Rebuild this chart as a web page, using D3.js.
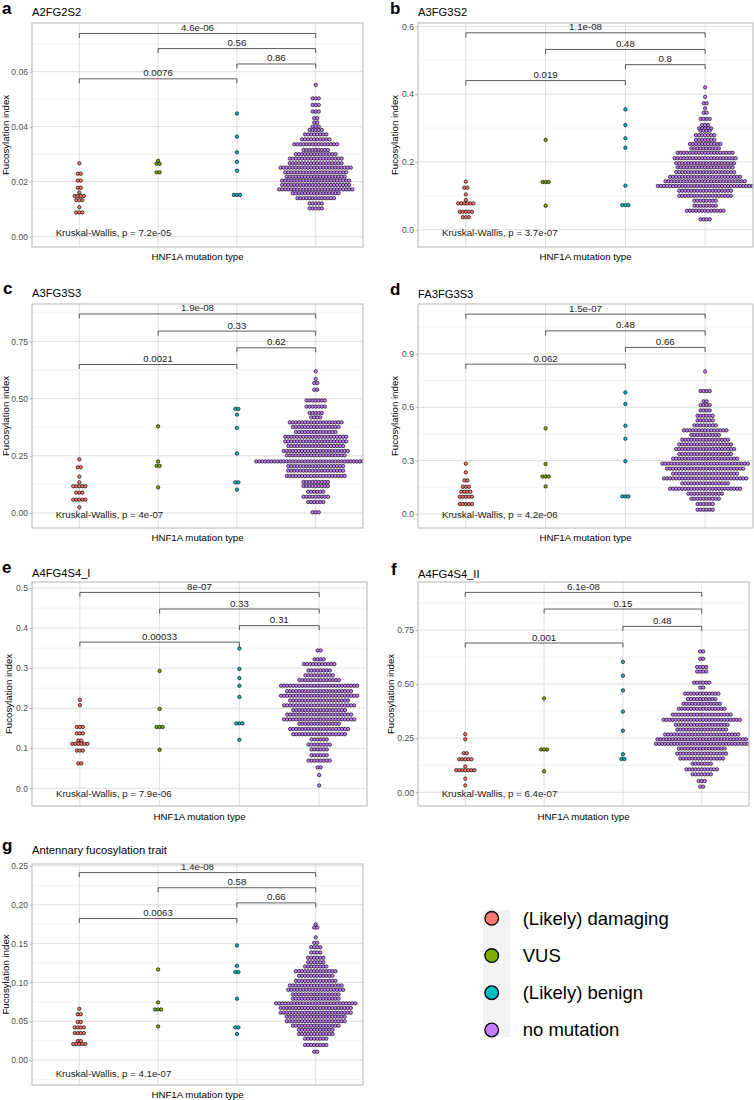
<!DOCTYPE html>
<html><head><meta charset="utf-8">
<script src="https://cdn.jsdelivr.net/npm/d3@7"></script>
<style>
body{margin:0;background:#fff}
svg{display:block;font-family:"Liberation Sans",Arial,Helvetica,sans-serif}
</style>
</head><body>
<svg id="chart" width="754" height="1100"></svg>
<script>
// ---------------- data ----------------
const categories = ["(Likely) damaging", "VUS", "(Likely) benign", "no mutation"];
const colors = ["#F8766D", "#7CAE00", "#00BFC4", "#C77CFF"];
const panelLetters = ["a", "b", "c", "d", "e", "f", "g"];
const panelTitles = ["A2FG2S2", "A3FG3S2", "A3FG3S3", "FA3FG3S3", "A4FG4S4_I", "A4FG4S4_II", "Antennary fucosylation trait"];
const kwLabels = ["Kruskal-Wallis, p = 7.2e-05", "Kruskal-Wallis, p = 3.7e-07", "Kruskal-Wallis, p = 4e-07",
  "Kruskal-Wallis, p = 4.2e-06", "Kruskal-Wallis, p = 7.9e-06", "Kruskal-Wallis, p = 6.4e-07", "Kruskal-Wallis, p = 4.1e-07"];
const kwY = [0.0016, -0.008, -0.007, -0.004, -0.0125, -0.005, -0.017];
const comparisons = [[0, 3], [1, 3], [2, 3], [0, 2]];
const pLabels = [
  ["4.6e-06", "0.56", "0.86", "0.0076"],
  ["1.1e-08", "0.48", "0.8", "0.019"],
  ["1.9e-08", "0.33", "0.62", "0.0021"],
  ["1.5e-07", "0.48", "0.66", "0.062"],
  ["8e-07", "0.33", "0.31", "0.00033"],
  ["6.1e-08", "0.15", "0.48", "0.001"],
  ["1.4e-08", "0.58", "0.66", "0.0063"]
];
const bracketY = [
  [0.0739, 0.0684, 0.0628, 0.0574],
  [0.581, 0.532, 0.487, 0.440],
  [0.870, 0.795, 0.722, 0.649],
  [1.123, 1.029, 0.936, 0.842],
  [0.489, 0.4475, 0.406, 0.365],
  [0.924, 0.847, 0.767, 0.690],
  [0.2415, 0.222, 0.2025, 0.1823]
];
const yDomains = [[-0.00375, 0.0777], [-0.051, 0.61], [-0.0656, 0.9135], [-0.0787, 1.18], [-0.0443, 0.515], [-0.0634, 0.972], [-0.0322, 0.2526]];
const yTicks = [[0, 0.02, 0.04, 0.06], [0, 0.2, 0.4, 0.6], [0, 0.25, 0.5, 0.75], [0, 0.3, 0.6, 0.9],
  [0, 0.1, 0.2, 0.3, 0.4, 0.5], [0, 0.25, 0.5, 0.75], [0, 0.05, 0.1, 0.15, 0.2, 0.25]];
const yTickLabels = [["0.00", "0.02", "0.04", "0.06"], ["0.0", "0.2", "0.4", "0.6"], ["0.00", "0.25", "0.50", "0.75"],
  ["0.0", "0.3", "0.6", "0.9"], ["0.0", "0.1", "0.2", "0.3", "0.4", "0.5"], ["0.00", "0.25", "0.50", "0.75"],
  ["0.00", "0.05", "0.10", "0.15", "0.20", "0.25"]];

// dot-plot rows per group: [bin value, number of stacked dots]
const dotsA = [
  [[0.0267,1],[0.0229,2],[0.0204,2],[0.0178,2],[0.0161,1],[0.0148,4],[0.0133,3],[0.0107,1],[0.0088,3]],
  [[0.0276,1],[0.0265,2],[0.0234,2]],
  [[0.0448,1],[0.0364,1],[0.0307,1],[0.0272,1],[0.024,1],[0.0152,3]],
  [[0.0552,1],[0.0503,3],[0.0479,3],[0.0455,3],[0.0431,2],[0.0415,2],[0.0400,3],[0.0388,5],[0.0372,8],[0.0354,10],
   [0.0336,15],[0.0315,9],[0.0300,14],[0.0284,18],[0.0267,18],[0.0251,24],[0.0234,21],[0.0218,20],[0.0204,23],
   [0.0188,23],[0.0172,25],[0.0158,16],[0.0140,13],[0.0121,5],[0.0103,5]]
];
const dotsB = [
  [[0.1416,1],[0.124,2],[0.104,1],[0.0875,1],[0.0777,6],[0.053,5],[0.037,3]],
  [[0.265,1],[0.1406,3],[0.0708,1]],
  [[0.355,1],[0.309,1],[0.270,1],[0.242,1],[0.130,1],[0.0727,3]],
  [[0.420,1],[0.392,1],[0.373,2],[0.358,1],[0.345,2],[0.327,4],[0.309,3],[0.299,5],[0.292,4],[0.279,7],[0.265,7],
   [0.253,11],[0.240,10],[0.227,19],[0.211,21],[0.196,20],[0.184,19],[0.170,20],[0.156,24],[0.143,27],[0.129,32],
   [0.115,18],[0.100,18],[0.0855,8],[0.0708,8],[0.056,13],[0.0307,4]]
];
const dotsC = [
  [[0.235,1],[0.200,2],[0.159,1],[0.134,1],[0.117,5],[0.089,3],[0.058,5],[0.025,1]],
  [[0.379,1],[0.225,1],[0.206,2],[0.112,1]],
  [[0.455,2],[0.430,1],[0.372,1],[0.260,1],[0.134,2],[0.102,1]],
  [[0.619,1],[0.586,1],[0.568,2],[0.539,2],[0.492,7],[0.465,7],[0.437,5],[0.418,4],[0.396,18],[0.376,16],[0.354,14],
   [0.333,21],[0.313,21],[0.293,19],[0.271,22],[0.252,20],[0.2255,40],[0.205,19],[0.185,19],[0.162,20],[0.1355,9],
   [0.118,9],[0.093,6],[0.071,9],[0.048,6],[0.003,3]]
];
const dotsD = [
  [[0.283,1],[0.234,1],[0.189,2],[0.153,3],[0.125,4],[0.097,5],[0.056,5]],
  [[0.481,1],[0.281,1],[0.211,3],[0.155,1]],
  [[0.683,1],[0.618,1],[0.496,1],[0.423,1],[0.296,1],[0.099,3]],
  [[0.801,1],[0.691,4],[0.633,2],[0.612,4],[0.582,4],[0.552,6],[0.526,6],[0.498,8],[0.470,15],[0.444,10],[0.417,16],
   [0.391,18],[0.365,20],[0.337,18],[0.311,22],[0.283,29],[0.255,26],[0.227,22],[0.200,28],[0.172,16],[0.142,24],
   [0.114,12],[0.086,10],[0.056,6],[0.024,6]]
];
const dotsE = [
  [[0.221,1],[0.2075,1],[0.153,3],[0.137,3],[0.119,2],[0.111,6],[0.094,3],[0.062,2]],
  [[0.293,1],[0.198,1],[0.153,3],[0.096,1]],
  [[0.349,1],[0.298,1],[0.275,1],[0.256,1],[0.228,1],[0.162,3],[0.121,1]],
  [[0.344,2],[0.322,4],[0.310,11],[0.294,8],[0.282,10],[0.270,14],[0.256,26],[0.2425,22],[0.231,26],[0.219,20],
   [0.207,24],[0.195,18],[0.184,22],[0.172,24],[0.161,14],[0.148,20],[0.135,18],[0.122,6],[0.109,8],[0.097,6],
   [0.0825,6],[0.069,8],[0.052,2],[0.033,1],[0.007,1]]
];
const dotsF = [
  [[0.2685,1],[0.245,1],[0.1806,2],[0.1528,5],[0.119,1],[0.102,7],[0.063,1],[0.032,1]],
  [[0.434,1],[0.198,3],[0.097,1]],
  [[0.603,1],[0.539,1],[0.471,1],[0.373,1],[0.285,1],[0.176,1],[0.154,2]],
  [[0.651,2],[0.617,2],[0.579,4],[0.558,4],[0.507,6],[0.484,2],[0.456,12],[0.431,10],[0.409,13],[0.386,16],
   [0.359,20],[0.335,26],[0.312,18],[0.290,17],[0.267,25],[0.245,30],[0.224,31],[0.202,16],[0.179,17],[0.156,15],
   [0.132,7],[0.106,11],[0.083,7],[0.052,3],[0.026,2]]
];
const dotsG = [
  [[0.066,1],[0.059,2],[0.049,2],[0.042,4],[0.0347,4],[0.0245,2],[0.0206,5]],
  [[0.1167,1],[0.0742,1],[0.0652,3],[0.0433,1]],
  [[0.1476,1],[0.1214,1],[0.1133,2],[0.079,1],[0.042,2],[0.0335,1]],
  [[0.1746,1],[0.1707,2],[0.158,1],[0.151,2],[0.1454,4],[0.1386,4],[0.1317,6],[0.126,6],[0.1205,8],[0.1145,14],
   [0.1085,12],[0.102,14],[0.096,18],[0.0905,19],[0.0845,16],[0.079,16],[0.073,27],[0.067,24],[0.061,24],
   [0.0558,20],[0.050,20],[0.0442,16],[0.039,12],[0.0335,12],[0.0275,8],[0.0193,8],[0.0107,2]]
];
const panelDots = [dotsA, dotsB, dotsC, dotsD, dotsE, dotsF, dotsG];

// ---------------- layout ----------------
const layout = [
  {x0: 32, x1: 363, y0: 23, y1: 247, lx: 2, ly: 14, ty: 15.5, ytx: 6, xty: 260},
  {x0: 418, x1: 753, y0: 23, y1: 247, lx: 390, ly: 14, ty: 15.5, ytx: 395, xty: 260},
  {x0: 32, x1: 363, y0: 304, y1: 528, lx: 3, ly: 294, ty: 296.5, ytx: 6, xty: 541},
  {x0: 418, x1: 753, y0: 304, y1: 528, lx: 390, ly: 295, ty: 297.5, ytx: 395, xty: 541},
  {x0: 32, x1: 367, y0: 582, y1: 806, lx: 2, ly: 573, ty: 576.5, ytx: 9, xty: 819.5},
  {x0: 418, x1: 749, y0: 582, y1: 806, lx: 391, ly: 575, ty: 578, ytx: 391, xty: 820},
  {x0: 32, x1: 363, y0: 864, y1: 1085, lx: 2, ly: 851, ty: 854, ytx: 6, xty: 1097.5}
];
const dotR = 1.7, dotStep = 3.05;

const svg = d3.select("#chart");
const defs = svg.append("defs");

panelDots.forEach((groups, p) => {
  const L = layout[p];
  const x = d3.scalePoint().domain(categories).range([L.x0, L.x1]).padding(0.6);
  const y = d3.scaleLinear().domain(yDomains[p]).range([L.y1, L.y0]);
  const g = svg.append("g");
  const clipId = "clip" + p;
  defs.append("clipPath").attr("id", clipId).append("rect")
    .attr("x", L.x0).attr("y", L.y0).attr("width", L.x1 - L.x0).attr("height", L.y1 - L.y0);

  // grid
  const ticks = yTicks[p];
  const step = ticks[1] - ticks[0];
  const minors = d3.range(-1, ticks.length + 1).map(i => ticks[0] + (i + 0.5) * step)
    .filter(v => v > yDomains[p][0] && v < yDomains[p][1]);
  const grid = g.append("g");
  grid.selectAll(".minor").data(minors).join("line")
    .attr("x1", L.x0).attr("x2", L.x1).attr("y1", d => y(d)).attr("y2", d => y(d))
    .attr("stroke", "#ebebeb").attr("stroke-width", 0.6);
  grid.selectAll(".major").data(ticks).join("line")
    .attr("x1", L.x0).attr("x2", L.x1).attr("y1", d => y(d)).attr("y2", d => y(d))
    .attr("stroke", "#dedede").attr("stroke-width", 1);
  grid.selectAll(".vmaj").data(categories).join("line")
    .attr("x1", d => x(d)).attr("x2", d => x(d)).attr("y1", L.y0).attr("y2", L.y1)
    .attr("stroke", "#dedede").attr("stroke-width", 1);

  // dots
  const pts = [];
  groups.forEach((rows, gi) => {
    rows.forEach(([v, n]) => {
      for (let i = 0; i < n; i++) {
        pts.push({cx: x(categories[gi]) + (i - (n - 1) / 2) * dotStep, cy: y(v), c: colors[gi]});
      }
    });
  });
  g.append("g").attr("clip-path", `url(#${clipId})`)
    .selectAll("circle").data(pts).join("circle")
    .attr("cx", d => d.cx).attr("cy", d => d.cy).attr("r", dotR)
    .attr("fill", d => d.c).attr("stroke", "#000").attr("stroke-width", 0.65);

  // brackets
  comparisons.forEach(([a, b], k) => {
    const yy = y(bracketY[p][k]);
    const xa = x(categories[a]), xb = x(categories[b]);
    g.append("path")
      .attr("d", `M${xa},${yy + 4.5}V${yy}H${xb}V${yy + 4.5}`)
      .attr("fill", "none").attr("stroke", "#333").attr("stroke-width", 0.8);
    g.append("text").attr("x", (xa + xb) / 2).attr("y", yy - 2.5)
      .attr("text-anchor", "middle").attr("font-size", 9.7).attr("fill", "#1a1a1a")
      .text(pLabels[p][k]);
  });

  // Kruskal-Wallis label
  g.append("text").attr("x", x(categories[0]) - 0.3 * x.step()).attr("y", y(kwY[p]))
    .attr("dy", "0.35em").attr("font-size", 9.7).attr("fill", "#1a1a1a").text(kwLabels[p]);

  // border
  g.append("rect").attr("x", L.x0).attr("y", L.y0).attr("width", L.x1 - L.x0).attr("height", L.y1 - L.y0)
    .attr("fill", "none").attr("stroke", "#b3b3b3").attr("stroke-width", 1);

  // y axis
  const axis = d3.axisLeft(y).tickValues(ticks).tickFormat((d, i) => yTickLabels[p][i]).tickSize(2.5).tickPadding(1.5);
  const ax = g.append("g").attr("transform", `translate(${L.x0},0)`).call(axis);
  ax.select(".domain").remove();
  ax.selectAll(".tick line").attr("stroke", "#b3b3b3");
  ax.selectAll(".tick text").attr("font-size", 8.6).attr("fill", "#4d4d4d")
    .attr("font-family", "Liberation Sans, Arial, sans-serif");

  // titles
  g.append("text").attr("x", L.lx).attr("y", L.ly).attr("font-size", 17).attr("font-weight", "bold").text(panelLetters[p]);
  g.append("text").attr("x", L.x0).attr("y", L.ty).attr("font-size", 11.2).attr("fill", "#000").text(panelTitles[p]);
  g.append("text").attr("x", (L.x0 + L.x1) / 2).attr("y", L.xty).attr("text-anchor", "middle")
    .attr("font-size", 9.7).attr("fill", "#000").text("HNF1A mutation type");
  g.append("text").attr("transform", `translate(${L.ytx},${(L.y0 + L.y1) / 2}) rotate(-90)`)
    .attr("text-anchor", "middle").attr("dy", "0.35em").attr("font-size", 9.7).attr("fill", "#000")
    .text("Fucosylation index");
});

// legend
const legY = d3.scalePoint().domain(categories).range([918.3, 1030]);
const leg = svg.append("g");
leg.append("rect").attr("x", 483).attr("y", 910).attr("width", 27).attr("height", 127).attr("fill", "#f2f2f2");
leg.selectAll("circle").data(categories).join("circle")
  .attr("cx", 491.7).attr("cy", d => legY(d)).attr("r", 6.8)
  .attr("fill", (d, i) => colors[i]).attr("stroke", "#000").attr("stroke-width", 1.3);
leg.selectAll("text").data(categories).join("text")
  .attr("x", 522.7).attr("y", d => legY(d)).attr("dy", "0.35em").attr("font-size", 18.5).attr("fill", "#000")
  .text(d => d);
</script>
</body></html>
